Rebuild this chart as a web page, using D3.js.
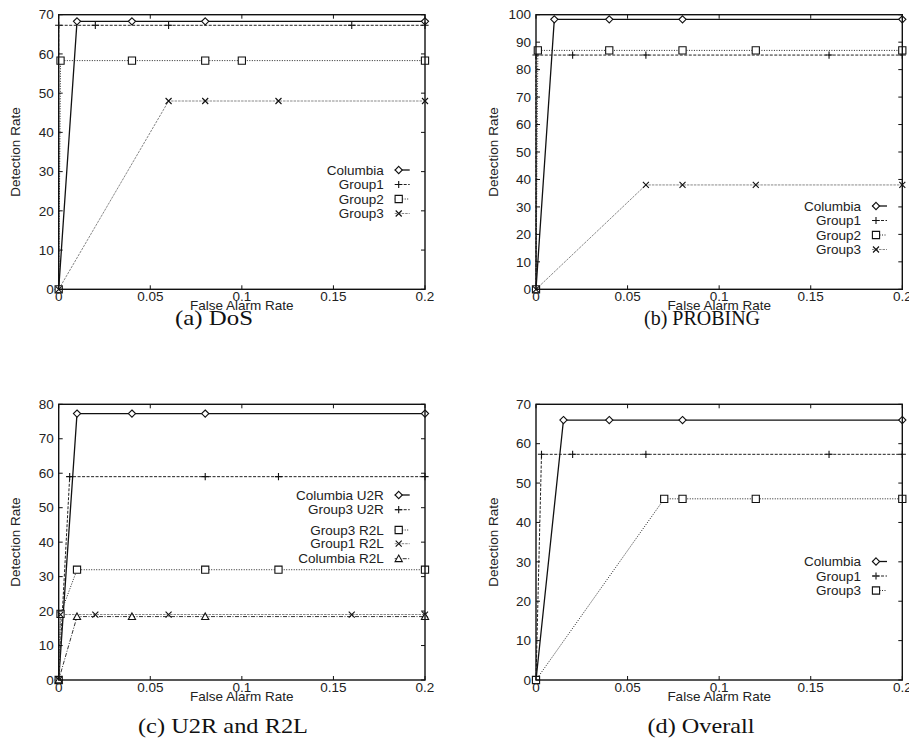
<!DOCTYPE html>
<head>
  <meta charset="utf-8">
  <script src="https://d3js.org/d3.v7.min.js"></script>
  <style>
    body { margin: 0; background: #fff; }
    text {
      font-family: 'Liberation Sans', Arial, sans-serif;
      font-size: 13.5px;
      fill: #222;
    }
    .caption {
      font-family: 'Liberation Serif', 'DejaVu Serif', serif;
      font-size: 21px;
      fill: #111;
    }
  </style>
</head>
<body>
<svg id="chart" width="909" height="742"></svg>
<script>

// ---------------- data ----------------
const xTicks = [0, 0.05, 0.1, 0.15, 0.2];
const xTickLabels = ["0", "0.05", "0.1", "0.15", "0.2"];

// (a) DoS
const dosColumbia = [[0, 0], [0.01, 68.3], [0.04, 68.3], [0.08, 68.3], [0.2, 68.3]];
const dosGroup1   = [[0, 0], [0, 67.3], [0.02, 67.3], [0.06, 67.3], [0.16, 67.3], [0.2, 67.3]];
const dosGroup2   = [[0, 0], [0.001, 58.3], [0.04, 58.3], [0.08, 58.3], [0.1, 58.3], [0.2, 58.3]];
const dosGroup3   = [[0, 0], [0.06, 48], [0.08, 48], [0.12, 48], [0.2, 48]];

// (b) PROBING
const probeColumbia = [[0, 0], [0.01, 98.3], [0.04, 98.3], [0.08, 98.3], [0.2, 98.3]];
const probeGroup1   = [[0, 0], [0, 85.3], [0.02, 85.3], [0.06, 85.3], [0.16, 85.3], [0.2, 85.3]];
const probeGroup2   = [[0, 0], [0.001, 87], [0.04, 87], [0.08, 87], [0.12, 87], [0.2, 87]];
const probeGroup3   = [[0, 0], [0.06, 38], [0.08, 38], [0.12, 38], [0.2, 38]];

// (c) U2R and R2L
const u2rColumbia = [[0, 0], [0.01, 77.3], [0.04, 77.3], [0.08, 77.3], [0.2, 77.3]];
const u2rGroup3   = [[0, 0], [0.006, 59], [0.08, 59], [0.12, 59], [0.2, 59]];
const r2lGroup3   = [[0, 0], [0.001, 19.2], [0.01, 32], [0.08, 32], [0.12, 32], [0.2, 32]];
const r2lGroup1   = [[0, 0], [0.001, 19], [0.02, 19], [0.06, 19], [0.16, 19], [0.2, 19]];
const r2lColumbia = [[0, 0], [0.01, 18.4], [0.04, 18.4], [0.08, 18.4], [0.2, 18.4]];

// (d) Overall
const allColumbia = [[0, 0], [0.015, 66], [0.04, 66], [0.08, 66], [0.2, 66]];
const allGroup1   = [[0, 0], [0.003, 57.3], [0.02, 57.3], [0.06, 57.3], [0.16, 57.3], [0.2, 57.3]];
const allGroup3   = [[0, 0], [0.07, 46], [0.08, 46], [0.12, 46], [0.2, 46]];

// ---------------- styles ----------------
const lineStyles = {
  solid:  { stroke: "#111", width: 1.3, dash: null },
  dashed: { stroke: "#222", width: 1,   dash: "3,1.5" },
  dotted: { stroke: "#222", width: 1,   dash: "1,1.5" },
  grey:   { stroke: "#888", width: 1,   dash: "2.5,1" },
  dashdot:{ stroke: "#333", width: 1,   dash: "4,1.5,1,1.5" }
};

function markerPath(type) {
  const s = 3.6;
  switch (type) {
    case "diamond":  return `M0,${-s}L${s},0L0,${s}L${-s},0Z`;
    case "plus":     return `M${-s},0H${s}M0,${-s}V${s}`;
    case "square":   return `M${-s},${-s}H${s}V${s}H${-s}Z`;
    case "cross":    return `M${-3},${-3}L3,3M${-3},3L3,${-3}`;
    case "triangle": return `M0,${-s}L${s},${s * 0.8}H${-s}Z`;
  }
}

const panels = [
  { left: 58.7, right: 425, top: 14.7, bottom: 289.3, yMax: 70,
    caption: "(a) DoS", capX: 214, capY: 325, capW: 78,
    legendY: [170, 184.5, 199, 213.5],
    series: [
      { name: "Columbia", data: dosColumbia, line: "solid",  mark: "diamond" },
      { name: "Group1",   data: dosGroup1,   line: "dashed", mark: "plus" },
      { name: "Group2",   data: dosGroup2,   line: "dotted", mark: "square" },
      { name: "Group3",   data: dosGroup3,   line: "grey",   mark: "cross" }
    ] },
  { left: 536, right: 902.3, top: 14.7, bottom: 289.3, yMax: 100,
    caption: "(b) PROBING", capX: 702, capY: 325, capW: 116,
    legendY: [206, 220.5, 235, 249.5],
    series: [
      { name: "Columbia", data: probeColumbia, line: "solid",  mark: "diamond" },
      { name: "Group1",   data: probeGroup1,   line: "dashed", mark: "plus" },
      { name: "Group2",   data: probeGroup2,   line: "dotted", mark: "square" },
      { name: "Group3",   data: probeGroup3,   line: "grey",   mark: "cross" }
    ] },
  { left: 58.7, right: 425, top: 404.3, bottom: 680, yMax: 80,
    caption: "(c) U2R and R2L", capX: 223, capY: 733, capW: 170,
    legendY: [495, 509.7, 530, 543.7, 558.7],
    series: [
      { name: "Columbia U2R", data: u2rColumbia, line: "solid",   mark: "diamond" },
      { name: "Group3 U2R",   data: u2rGroup3,   line: "dashed",  mark: "plus" },
      { name: "Group3 R2L",   data: r2lGroup3,   line: "dotted",  mark: "square" },
      { name: "Group1 R2L",   data: r2lGroup1,   line: "grey",    mark: "cross" },
      { name: "Columbia R2L", data: r2lColumbia, line: "dashdot", mark: "triangle" }
    ] },
  { left: 536, right: 902.3, top: 404.3, bottom: 680, yMax: 70,
    caption: "(d) Overall", capX: 701, capY: 733, capW: 107,
    legendY: [561.5, 576, 590.5],
    series: [
      { name: "Columbia", data: allColumbia, line: "solid",  mark: "diamond" },
      { name: "Group1",   data: allGroup1,   line: "dashed", mark: "plus" },
      { name: "Group3",   data: allGroup3,   line: "dotted", mark: "square" }
    ] }
];

// ---------------- draw ----------------
const svg = d3.select("#chart");

panels.forEach(p => {
  const x = d3.scaleLinear().domain([0, 0.2]).range([p.left, p.right]);
  const y = d3.scaleLinear().domain([0, p.yMax]).range([p.bottom, p.top]);
  const g = svg.append("g");
  const yTicks = d3.range(0, p.yMax + 1, 10);

  // series lines
  const line = d3.line().x(d => x(d[0])).y(d => y(d[1]));
  p.series.forEach(s => {
    const st = lineStyles[s.line];
    g.append("path")
      .attr("d", line(s.data))
      .attr("fill", "none")
      .attr("stroke", st.stroke)
      .attr("stroke-width", st.width)
      .attr("stroke-dasharray", st.dash);
  });

  // markers
  p.series.forEach(s => {
    g.selectAll(null)
      .data(s.data)
      .enter().append("path")
      .attr("transform", d => `translate(${x(d[0])},${y(d[1])})`)
      .attr("d", markerPath(s.mark))
      .attr("fill", s.mark === "plus" || s.mark === "cross" ? "none" : "#fff")
      .attr("stroke", "#111")
      .attr("stroke-width", 1.1);
  });

  // border
  g.append("rect")
    .attr("x", p.left).attr("y", p.top)
    .attr("width", p.right - p.left).attr("height", p.bottom - p.top)
    .attr("fill", "none").attr("stroke", "#111").attr("stroke-width", 1.4);

  // ticks (inward, mirrored)
  xTicks.forEach(t => {
    g.append("line").attr("x1", x(t)).attr("x2", x(t))
      .attr("y1", p.bottom).attr("y2", p.bottom - 4).attr("stroke", "#111");
    g.append("line").attr("x1", x(t)).attr("x2", x(t))
      .attr("y1", p.top).attr("y2", p.top + 4).attr("stroke", "#111");
  });
  yTicks.forEach(t => {
    g.append("line").attr("x1", p.left).attr("x2", p.left + 4)
      .attr("y1", y(t)).attr("y2", y(t)).attr("stroke", "#111");
    g.append("line").attr("x1", p.right).attr("x2", p.right - 4)
      .attr("y1", y(t)).attr("y2", y(t)).attr("stroke", "#111");
  });

  // tick labels
  g.selectAll(null).data(xTicks).enter().append("text")
    .attr("x", d => x(d)).attr("y", p.bottom + 11.5)
    .attr("text-anchor", "middle")
    .text((d, i) => xTickLabels[i]);
  g.selectAll(null).data(yTicks).enter().append("text")
    .attr("x", p.left - 5).attr("y", d => y(d)).attr("dy", "0.35em")
    .attr("text-anchor", "end")
    .text(d => d);

  // axis titles
  g.append("text")
    .attr("x", (p.left + p.right) / 2).attr("y", p.bottom + 20.5)
    .attr("text-anchor", "middle")
    .text("False Alarm Rate");
  g.append("text")
    .attr("transform", `translate(${p.left - 43},${(p.top + p.bottom) / 2}) rotate(-90)`)
    .attr("dy", "0.35em")
    .attr("text-anchor", "middle")
    .text("Detection Rate");

  // legend
  const textEnd = p.left + 325;
  p.series.forEach((s, i) => {
    const ly = p.legendY[i];
    const st = lineStyles[s.line];
    g.append("text")
      .attr("x", textEnd).attr("y", ly).attr("dy", "0.35em")
      .attr("text-anchor", "end")
      .text(s.name);
    g.append("line")
      .attr("x1", textEnd + 11).attr("x2", textEnd + 26)
      .attr("y1", ly).attr("y2", ly)
      .attr("stroke", st.stroke).attr("stroke-width", st.width)
      .attr("stroke-dasharray", st.dash);
    g.append("path")
      .attr("transform", `translate(${textEnd + 15},${ly})`)
      .attr("d", markerPath(s.mark))
      .attr("fill", s.mark === "plus" || s.mark === "cross" ? "none" : "#fff")
      .attr("stroke", "#111").attr("stroke-width", 1.1);
  });

  // caption
  svg.append("text")
    .attr("class", "caption")
    .attr("x", p.capX).attr("y", p.capY)
    .attr("text-anchor", "middle")
    .attr("textLength", p.capW)
    .attr("lengthAdjust", "spacingAndGlyphs")
    .text(p.caption);
});
</script>
</body>
